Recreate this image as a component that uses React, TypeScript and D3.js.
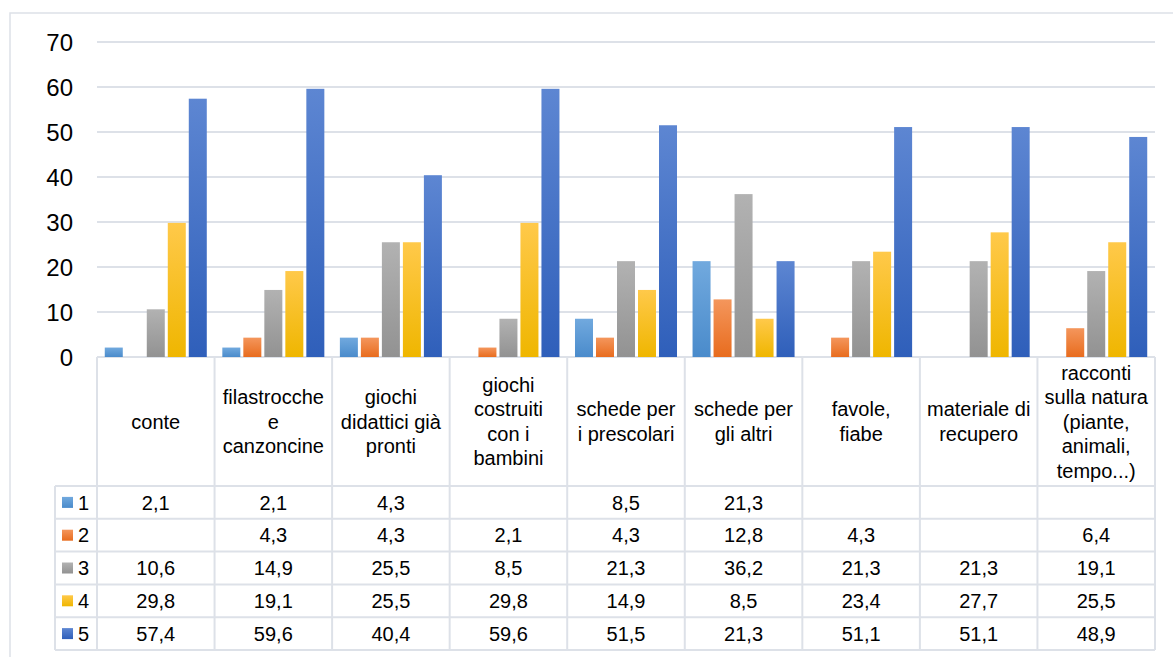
import React, { useRef, useEffect } from "react";
import * as d3 from "d3";

// categories as shown in the table header (already split into lines)
const categories: string[][] = [
  ["conte"],
  ["filastrocche", "e", "canzoncine"],
  ["giochi", "didattici già", "pronti"],
  ["giochi", "costruiti", "con i", "bambini"],
  ["schede per", "i prescolari"],
  ["schede per", "gli altri"],
  ["favole,", "fiabe"],
  ["materiale di", "recupero"],
  ["racconti", "sulla natura", "(piante,", "animali,", "tempo...)"],
];

const seriesNames = ["1", "2", "3", "4", "5"];

const s1 = [2.1, 2.1, 4.3, null, 8.5, 21.3, null, null, null];
const s2 = [null, 4.3, 4.3, 2.1, 4.3, 12.8, 4.3, null, 6.4];
const s3 = [10.6, 14.9, 25.5, 8.5, 21.3, 36.2, 21.3, 21.3, 19.1];
const s4 = [29.8, 19.1, 25.5, 29.8, 14.9, 8.5, 23.4, 27.7, 25.5];
const s5 = [57.4, 59.6, 40.4, 59.6, 51.5, 21.3, 51.1, 51.1, 48.9];

const yTicks = [0, 10, 20, 30, 40, 50, 60, 70];

// gradient stops: top, bottom
const palette = [
  { top: "#71a9de", bottom: "#4a8bcb" },
  { top: "#f4965c", bottom: "#e86c1e" },
  { top: "#b2b2b2", bottom: "#929292" },
  { top: "#ffc94a", bottom: "#efb600" },
  { top: "#5d86d2", bottom: "#2f5fba" },
];

const App: React.FC = () => {
  const ref = useRef<SVGSVGElement>(null);

  useEffect(() => {
    if (!ref.current) return;
    const svg = d3.select(ref.current);
    svg.selectAll("*").remove();

    const W = 1173;
    const H = 657;
    const plot = { left: 97, right: 1155, top: 42, bottom: 357 };
    const table = { legendLeft: 55, headerBottom: 486, rowH: 32.8 };
    const font = "'Liberation Sans', Arial, sans-serif";
    const grid = "#dde1e8";
    const series = [s1, s2, s3, s4, s5];

    svg.attr("width", W).attr("height", H);
    svg.append("rect").attr("width", W).attr("height", H).attr("fill", "#fff");
    // chart area border (right and bottom run off the picture)
    svg
      .append("rect")
      .attr("x", 10)
      .attr("y", 13)
      .attr("width", 1180)
      .attr("height", 660)
      .attr("fill", "none")
      .attr("stroke", grid)
      .attr("stroke-width", 1.5);

    const defs = svg.append("defs");
    palette.forEach((c, i) => {
      const g = defs
        .append("linearGradient")
        .attr("id", `grad${i}`)
        .attr("x1", 0)
        .attr("y1", 0)
        .attr("x2", 0)
        .attr("y2", 1);
      g.append("stop").attr("offset", "0%").attr("stop-color", c.top);
      g.append("stop").attr("offset", "100%").attr("stop-color", c.bottom);
    });

    const y = d3.scaleLinear().domain([0, 70]).range([plot.bottom, plot.top]);
    const x = d3
      .scaleBand<number>()
      .domain(categories.map((_, i) => i))
      .range([plot.left, plot.right]);
    const xInner = d3
      .scaleBand<number>()
      .domain(seriesNames.map((_, i) => i))
      .range([0, x.bandwidth()])
      .paddingInner(3 / 21)
      .paddingOuter(0.37);

    // gridlines
    svg
      .append("g")
      .selectAll("line")
      .data(yTicks)
      .join("line")
      .attr("x1", plot.left)
      .attr("x2", plot.right)
      .attr("y1", (d) => y(d))
      .attr("y2", (d) => y(d))
      .attr("stroke", grid)
      .attr("stroke-width", 2);

    // y tick labels
    svg
      .append("g")
      .selectAll("text")
      .data(yTicks)
      .join("text")
      .attr("x", 73)
      .attr("y", (d) => y(d))
      .attr("dy", "0.36em")
      .attr("text-anchor", "end")
      .attr("font-family", font)
      .attr("font-size", 24)
      .attr("fill", "#000")
      .text((d) => d);

    // bars
    series.forEach((vals, si) => {
      svg
        .append("g")
        .selectAll("rect")
        .data(vals.map((v, ci) => ({ v, ci })).filter((d) => d.v != null))
        .join("rect")
        .attr("x", (d) => (x(d.ci) as number) + (xInner(si) as number))
        .attr("y", (d) => y(d.v as number))
        .attr("width", xInner.bandwidth())
        .attr("height", (d) => y(0) - y(d.v as number))
        .attr("fill", `url(#grad${si})`);
    });

    // data table
    const tableG = svg.append("g");
    const tableBottom = table.headerBottom + table.rowH * series.length;
    const lineAttrs = (sel: any) =>
      sel.attr("stroke", grid).attr("stroke-width", 2);

    // vertical lines
    categories.forEach((_, ci) => {
      lineAttrs(
        tableG
          .append("line")
          .attr("x1", x(ci) as number)
          .attr("x2", x(ci) as number)
          .attr("y1", plot.bottom)
          .attr("y2", tableBottom)
      );
    });
    lineAttrs(
      tableG
        .append("line")
        .attr("x1", plot.right)
        .attr("x2", plot.right)
        .attr("y1", plot.bottom)
        .attr("y2", tableBottom)
    );
    lineAttrs(
      tableG
        .append("line")
        .attr("x1", table.legendLeft)
        .attr("x2", table.legendLeft)
        .attr("y1", table.headerBottom)
        .attr("y2", tableBottom)
    );
    // horizontal lines
    for (let r = 0; r <= series.length; r++) {
      const yy = table.headerBottom + r * table.rowH;
      lineAttrs(
        tableG
          .append("line")
          .attr("x1", table.legendLeft)
          .attr("x2", plot.right)
          .attr("y1", yy)
          .attr("y2", yy)
      );
    }

    // header labels
    const lineH = 24.5;
    const headerMid = (plot.bottom + table.headerBottom) / 2;
    categories.forEach((lines, ci) => {
      const t = tableG
        .append("text")
        .attr("text-anchor", "middle")
        .attr("font-family", font)
        .attr("font-size", 20)
        .attr("fill", "#000");
      const cx = (x(ci) as number) + x.bandwidth() / 2;
      lines.forEach((l, li) => {
        t.append("tspan")
          .attr("x", cx)
          .attr("y", headerMid + (li - (lines.length - 1) / 2) * lineH)
          .attr("dy", "0.36em")
          .text(l);
      });
    });

    // rows
    const fmt = (v: number) => v.toFixed(1).replace(".", ",");
    series.forEach((vals, si) => {
      const mid = table.headerBottom + si * table.rowH + table.rowH / 2;
      tableG
        .append("rect")
        .attr("x", 62)
        .attr("y", mid - 5.5)
        .attr("width", 11)
        .attr("height", 11)
        .attr("fill", `url(#grad${si})`);
      tableG
        .append("text")
        .attr("x", 78)
        .attr("y", mid)
        .attr("dy", "0.36em")
        .attr("font-family", font)
        .attr("font-size", 20)
        .text(seriesNames[si]);
      vals.forEach((v, ci) => {
        if (v == null) return;
        tableG
          .append("text")
          .attr("x", (x(ci) as number) + x.bandwidth() / 2)
          .attr("y", mid)
          .attr("dy", "0.36em")
          .attr("text-anchor", "middle")
          .attr("font-family", font)
          .attr("font-size", 20)
          .text(fmt(v));
      });
    });
  }, []);

  return (
    <svg
      ref={ref}
      width={1173}
      height={657}
      style={{ position: "fixed", left: 0, top: 0, display: "block" }}
    ></svg>
  );
};

export default App;
